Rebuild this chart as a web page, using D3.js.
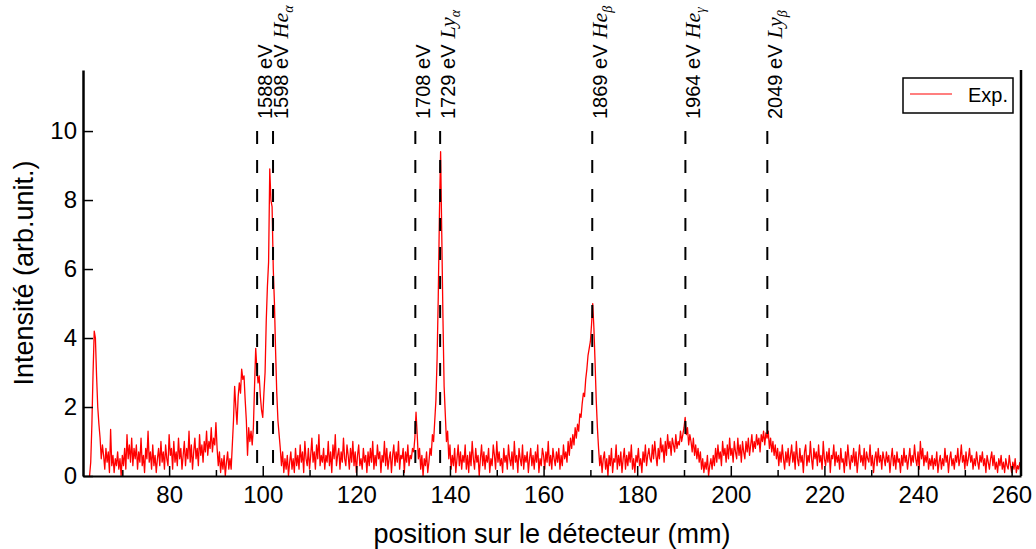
<!DOCTYPE html>
<html>
<head>
<meta charset="utf-8">
<script src="https://cdn.jsdelivr.net/npm/d3@7/dist/d3.min.js"></script>
<style>
  html, body { margin: 0; padding: 0; background: #fff; }
  svg { display: block; }
  text { font-family: "Liberation Sans", Arial, Helvetica, sans-serif; fill: #000; }
</style>
</head>
<body>
<svg id="chart" width="1036" height="549"></svg>
<script>
// ---- data ----
const positionStart = 63.0;   // mm, first detector sample
const positionStep = 0.25;    // mm between samples
const intensity = [
  // 63.0 - 72.75
  0.0, 0.4, 1.5, 3.0, 4.2, 4.0, 2.9, 2.0, 1.5, 1.1, 0.5, 0.9, 0.6, 0.2, 0.8, 0.4, 0.7, 0.1, 1.35, 0.3,
  0.6, 0.1, 0.5, 0.3, 0.7, 0.2, 0.5, 0.0, 0.6, 0.3, 0.8, 0.2, 1.2, 0.5, 0.9, 0.4, 1.1, 0.3, 0.8, 0.5,
  // 73.0 - 82.75
  0.9, 0.2, 0.7, 0.4, 1.1, 0.3, 0.6, 0.1, 0.8, 0.5, 1.3, 0.4, 0.7, 0.2, 0.9, 0.3, 0.6, 0.1, 0.5, 0.8,
  0.3, 1.0, 0.4, 0.7, 0.2, 0.9, 0.5, 0.3, 1.2, 0.6, 0.8, 0.2, 1.0, 0.4, 0.7, 0.3, 1.1, 0.5, 0.8, 0.2,
  // 83.0 - 92.75
  0.6, 1.0, 0.3, 0.8, 0.5, 1.3, 0.4, 0.9, 0.2, 0.7, 1.1, 0.5, 0.8, 0.3, 1.2, 0.6, 0.9, 0.4, 1.0, 0.7,
  1.3, 0.6, 1.0, 0.8, 1.4, 0.7, 1.1, 0.9, 1.55, 0.8, 0.3, 0.7, 0.1, 0.5, 0.2, 0.6, 0.0, 0.4, 0.7, 0.2,
  // 93.0 - 102.75
  0.5, 0.2, 0.9, 1.6, 2.6, 2.0, 1.5, 2.3, 2.7, 2.4, 3.1, 2.8, 2.9, 2.2, 1.6, 0.6, 1.4, 1.0, 1.3, 0.9,
  1.4, 2.6, 3.7, 3.1, 2.7, 2.9, 2.3, 1.9, 1.7, 2.4, 3.0, 4.5, 5.5, 6.2, 8.9, 8.0, 7.8, 6.0, 5.0, 3.6,
  // 103.0 - 112.75
  2.4, 1.6, 1.2, 0.8, 0.3, 0.7, 0.1, 0.5, 0.2, 0.6, 0.0, 0.4, 0.7, 0.2, 0.5, 0.1, 0.8, 0.3, 0.6, 0.2,
  0.9, 0.4, 0.7, 0.1, 1.0, 0.5, 0.3, 0.8, 0.2, 0.6, 1.1, 0.4, 0.7, 0.2, 0.9, 0.5, 1.2, 0.3, 0.6, 0.4,
  // 113.0 - 122.75
  0.8, 0.2, 0.6, 0.4, 1.0, 0.3, 0.7, 0.1, 0.9, 0.5, 1.2, 0.3, 0.6, 0.8, 0.2, 0.7, 0.4, 1.1, 0.5, 0.3,
  0.9, 0.6, 0.2, 0.8, 0.4, 1.0, 0.3, 0.7, 0.1, 0.6, 0.9, 0.3, 0.5, 0.2, 0.8, 0.4, 0.6, 0.1, 0.7, 0.3,
  // 123.0 - 132.75
  0.8, 0.4, 1.0, 0.2, 0.6, 0.3, 0.9, 0.5, 0.7, 0.1, 0.6, 0.4, 1.0, 0.3, 0.8, 0.2, 0.5, 0.7, 0.1, 0.6,
  0.9, 0.3, 0.7, 0.4, 1.0, 0.2, 0.6, 0.5, 0.8, 0.1, 0.7, 0.4, 0.9, 0.3, 0.6, 0.5, 0.8, 0.7, 1.1, 1.85,
  // 133.0 - 142.75
  1.2, 0.5, 0.8, 0.2, 0.6, 0.0, 0.5, 0.3, 0.7, 0.1, 0.4, 0.8, 0.6, 1.2, 1.0, 1.6, 2.2, 3.4, 5.2, 7.6,
  9.4, 7.0, 4.6, 2.6, 1.8, 1.0, 1.3, 0.5, 0.9, 0.2, 0.6, 0.3, 0.8, 0.1, 0.5, 0.9, 0.3, 0.7, 0.2, 0.6,
  // 143.0 - 152.75
  0.4, 0.9, 0.2, 0.6, 0.1, 0.7, 0.3, 1.0, 0.5, 0.2, 0.8, 0.4, 0.6, 0.0, 0.5, 0.9, 0.3, 0.7, 0.2, 0.6,
  0.4, 0.8, 0.1, 0.5, 0.3, 0.9, 0.6, 0.2, 1.0, 0.4, 0.7, 0.3, 0.5, 0.1, 0.8, 0.4, 0.6, 0.2, 0.9, 0.5,
  // 153.0 - 162.75
  0.3, 0.7, 0.2, 1.0, 0.4, 0.6, 0.1, 0.8, 0.5, 0.3, 0.9, 0.2, 0.6, 0.4, 0.7, 0.1, 0.5, 0.8, 0.3, 0.6,
  0.2, 0.7, 0.4, 0.9, 0.1, 0.5, 0.3, 0.8, 0.6, 0.2, 0.7, 0.4, 1.0, 0.3, 0.6, 0.2, 0.8, 0.5, 0.3, 0.7,
  // 163.0 - 172.75
  0.4, 0.8, 0.2, 0.6, 0.3, 0.9, 0.5, 0.7, 0.4, 1.0, 0.6, 1.1, 0.8, 1.2, 0.9, 1.4, 1.1, 1.5, 1.3, 1.8,
  1.7, 2.1, 2.4, 2.3, 2.8, 3.1, 3.5, 3.7, 3.9, 4.4, 5.0, 4.3, 3.3, 2.2, 1.4, 0.8, 0.3, 0.6, 0.1, 0.5,
  // 173.0 - 182.75
  0.7, 0.2, 0.5, 0.0, 0.6, 0.3, 0.8, 0.1, 0.5, 0.4, 0.9, 0.2, 0.6, 0.3, 0.7, 0.1, 0.5, 0.8, 0.2, 0.6,
  0.3, 0.7, 0.4, 0.9, 0.2, 0.5, 0.1, 0.6, 0.4, 0.8, 0.3, 0.5, 0.1, 0.7, 0.4, 0.9, 0.3, 0.6, 0.8, 0.5,
  // 183.0 - 192.75
  0.4, 0.9, 0.5, 1.0, 0.6, 0.3, 0.8, 0.5, 1.1, 0.7, 0.9, 0.4, 1.0, 0.6, 1.2, 0.8, 1.0, 0.6, 1.1, 0.9,
  0.7, 1.2, 0.8, 1.0, 0.9, 1.3, 1.0, 1.2, 1.4, 1.7, 1.2, 1.4, 0.9, 1.2, 1.0, 0.7, 1.1, 0.6, 0.9, 0.5,
  // 193.0 - 202.75
  0.8, 0.4, 0.7, 0.2, 0.5, 0.1, 0.4, 0.2, 0.6, 0.0, 0.3, 0.5, 0.2, 0.6, 0.3, 0.8, 0.4, 0.9, 0.5, 0.7,
  0.3, 1.0, 0.6, 0.8, 0.4, 0.9, 0.5, 1.1, 0.6, 0.8, 0.4, 1.0, 0.7, 0.5, 1.1, 0.6, 0.9, 0.4, 1.0, 0.7,
  // 203.0 - 212.75
  0.5, 1.0, 0.7, 1.1, 0.6, 0.9, 1.2, 0.7, 1.0, 0.8, 1.2, 0.9, 1.1, 0.7, 1.2, 1.0, 1.3, 0.9, 1.25, 1.1,
  1.3, 0.8, 1.1, 0.7, 1.0, 0.6, 0.9, 0.5, 0.8, 0.3, 0.7, 0.4, 0.9, 0.5, 0.2, 0.7, 0.4, 0.8, 0.3, 0.6,
  // 213.0 - 222.75
  0.9, 0.4, 0.7, 0.2, 1.0, 0.5, 0.3, 0.8, 0.4, 0.6, 0.1, 0.7, 0.9, 0.3, 0.6, 0.4, 1.0, 0.5, 0.2, 0.8,
  0.5, 0.7, 0.3, 0.9, 0.4, 0.6, 0.2, 1.0, 0.5, 0.3, 0.7, 0.4, 0.8, 0.1, 0.6, 0.5, 0.9, 0.3, 0.7, 0.4,
  // 223.0 - 232.75
  0.6, 0.2, 0.8, 0.4, 0.5, 0.1, 0.7, 0.3, 0.9, 0.5, 0.2, 0.6, 0.4, 0.8, 0.3, 0.7, 0.1, 0.5, 0.9, 0.4,
  0.6, 0.3, 0.8, 0.2, 0.7, 0.5, 0.4, 0.9, 0.3, 0.6, 0.1, 0.5, 0.7, 0.3, 0.8, 0.4, 0.6, 0.2, 0.7, 0.5,
  // 233.0 - 242.75
  0.3, 0.7, 0.4, 0.6, 0.1, 0.5, 0.8, 0.3, 0.6, 0.2, 0.7, 0.4, 0.5, 0.1, 0.6, 0.3, 0.8, 0.4, 0.6, 0.2,
  0.5, 0.8, 0.3, 0.6, 0.4, 0.9, 0.5, 0.3, 0.7, 0.2, 1.0, 0.5, 0.8, 0.3, 0.6, 0.4, 0.7, 0.2, 0.5, 0.3,
  // 243.0 - 252.75
  0.6, 0.2, 0.5, 0.3, 0.7, 0.1, 0.4, 0.6, 0.2, 0.5, 0.3, 0.8, 0.4, 0.6, 0.1, 0.5, 0.7, 0.3, 0.5, 0.2,
  0.6, 0.4, 0.8, 0.3, 0.5, 0.9, 0.4, 0.6, 0.2, 0.7, 0.3, 0.5, 0.8, 0.4, 0.6, 0.2, 0.5, 0.3, 0.7, 0.4,
  // 253.0 - 261.75
  0.2, 0.6, 0.4, 0.7, 0.3, 0.5, 0.1, 0.6, 0.4, 0.2, 0.5, 0.7, 0.3, 0.6, 0.2, 0.4, 0.1, 0.5, 0.3, 0.6,
  0.2, 0.4, 0.1, 0.5, 0.3, 0.2, 0.6, 0.3, 0.1, 0.4, 0.2, 0.5, 0.1, 0.3, 0.2, 0.4
];

const linePositions = [98.8, 102.2, 132.6, 137.9, 170.4, 190.3, 207.8];
const lineEnergies  = ["1588 eV", "1598 eV", "1708 eV", "1729 eV", "1869 eV", "1964 eV", "2049 eV"];
const lineNames     = ["", "He", "", "Ly", "He", "He", "Ly"];
const lineSubs      = ["", "α", "", "α", "β", "γ", "β"];

const xMajorTicks = [80, 100, 120, 140, 160, 180, 200, 220, 240, 260];
const xMinorTicks = [70, 90, 110, 130, 150, 170, 190, 210, 230, 250];
const yTicks = [0, 2, 4, 6, 8, 10];

const xLabel = "position sur le détecteur (mm)";
const yLabel = "Intensité (arb.unit.)";
const legendLabel = "Exp.";

// ---- drawing ----
const svg = d3.select("#chart");
const plotLeft = 83, plotRight = 1021, plotTop = 70, plotBottom = 476;

const x = d3.scaleLinear().domain([61.6, 262]).range([plotLeft, plotRight]);
const y = d3.scaleLinear().domain([0, 11.77]).range([plotBottom, plotTop]);

const points = intensity.map((v, i) => [positionStart + i * positionStep, v]);

// spectrum
svg.append("path")
  .datum(points)
  .attr("fill", "none")
  .attr("stroke", "#ff0000")
  .attr("stroke-width", 1.3)
  .attr("stroke-linejoin", "round")
  .attr("d", d3.line().x(d => x(d[0])).y(d => y(d[1])));

// dashed reference lines
svg.append("g").selectAll("line")
  .data(linePositions)
  .join("line")
  .attr("x1", d => x(d)).attr("x2", d => x(d))
  .attr("y1", y(10)).attr("y2", y(0))
  .attr("stroke", "#000")
  .attr("stroke-width", 2)
  .attr("stroke-dasharray", "13,16");

// line labels
const labelData = linePositions.map((p, i) => ({ p, e: lineEnergies[i], n: lineNames[i], s: lineSubs[i] }));
const labels = svg.append("g").selectAll("text")
  .data(labelData)
  .join("text")
  .attr("transform", d => `translate(${x(d.p) + 15},119) rotate(-90)`)
  .attr("font-size", 20);
labels.append("tspan").text(d => d.e);
labels.filter(d => d.n !== "")
  .append("tspan")
  .attr("font-family", "'Liberation Serif', 'Times New Roman', serif")
  .attr("font-style", "italic")
  .attr("font-size", 22)
  .attr("dx", 6)
  .text(d => d.n);
labels.filter(d => d.s !== "")
  .append("tspan")
  .attr("font-family", "'Liberation Serif', 'Times New Roman', serif")
  .attr("font-style", "italic")
  .attr("font-size", 14)
  .attr("dy", 5)
  .text(d => d.s);

// axes
const xAxis = svg.append("g")
  .attr("transform", `translate(0,${plotBottom})`)
  .call(d3.axisBottom(x).tickValues(xMajorTicks).tickFormat(d3.format("d"))
    .tickSizeInner(-10).tickSizeOuter(0).tickPadding(10));
xAxis.select(".domain").attr("stroke-width", 2);
xAxis.selectAll(".tick line").attr("stroke-width", 1.5);
xAxis.selectAll("text").attr("font-size", 24).attr("font-family", "'Liberation Sans', Arial, sans-serif");

const xMinor = svg.append("g")
  .attr("transform", `translate(0,${plotBottom})`)
  .call(d3.axisBottom(x).tickValues(xMinorTicks).tickFormat("")
    .tickSizeInner(-6).tickSizeOuter(0));
xMinor.select(".domain").remove();
xMinor.selectAll(".tick line").attr("stroke-width", 1.5);

const yAxis = svg.append("g")
  .attr("transform", `translate(${plotLeft},0)`)
  .call(d3.axisLeft(y).tickValues(yTicks).tickFormat(d3.format("d"))
    .tickSizeInner(-10).tickSizeOuter(0).tickPadding(6));
yAxis.select(".domain").attr("stroke-width", 2.5);
yAxis.selectAll(".tick line").attr("stroke-width", 1.5);
yAxis.selectAll("text").attr("font-size", 24).attr("font-family", "'Liberation Sans', Arial, sans-serif");

// right spine
svg.append("line")
  .attr("x1", plotRight).attr("x2", plotRight)
  .attr("y1", plotTop).attr("y2", plotBottom)
  .attr("stroke", "#000").attr("stroke-width", 2.5);

// axis titles
svg.append("text")
  .attr("x", (plotLeft + plotRight) / 2).attr("y", 543)
  .attr("text-anchor", "middle")
  .attr("font-size", 27)
  .text(xLabel);

svg.append("text")
  .attr("transform", `translate(33,${(plotTop + plotBottom) / 2}) rotate(-90)`)
  .attr("text-anchor", "middle")
  .attr("font-size", 27)
  .text(yLabel);

// legend
const lg = svg.append("g");
lg.append("rect")
  .attr("x", 903).attr("y", 78).attr("width", 110).attr("height", 35)
  .attr("fill", "#fff").attr("stroke", "#000").attr("stroke-width", 1.5);
lg.append("line")
  .attr("x1", 910).attr("x2", 952).attr("y1", 94).attr("y2", 94)
  .attr("stroke", "#ff0000").attr("stroke-width", 1.2);
lg.append("text")
  .attr("x", 968).attr("y", 102)
  .attr("font-size", 20)
  .text(legendLabel);
</script>
</body>
</html>
